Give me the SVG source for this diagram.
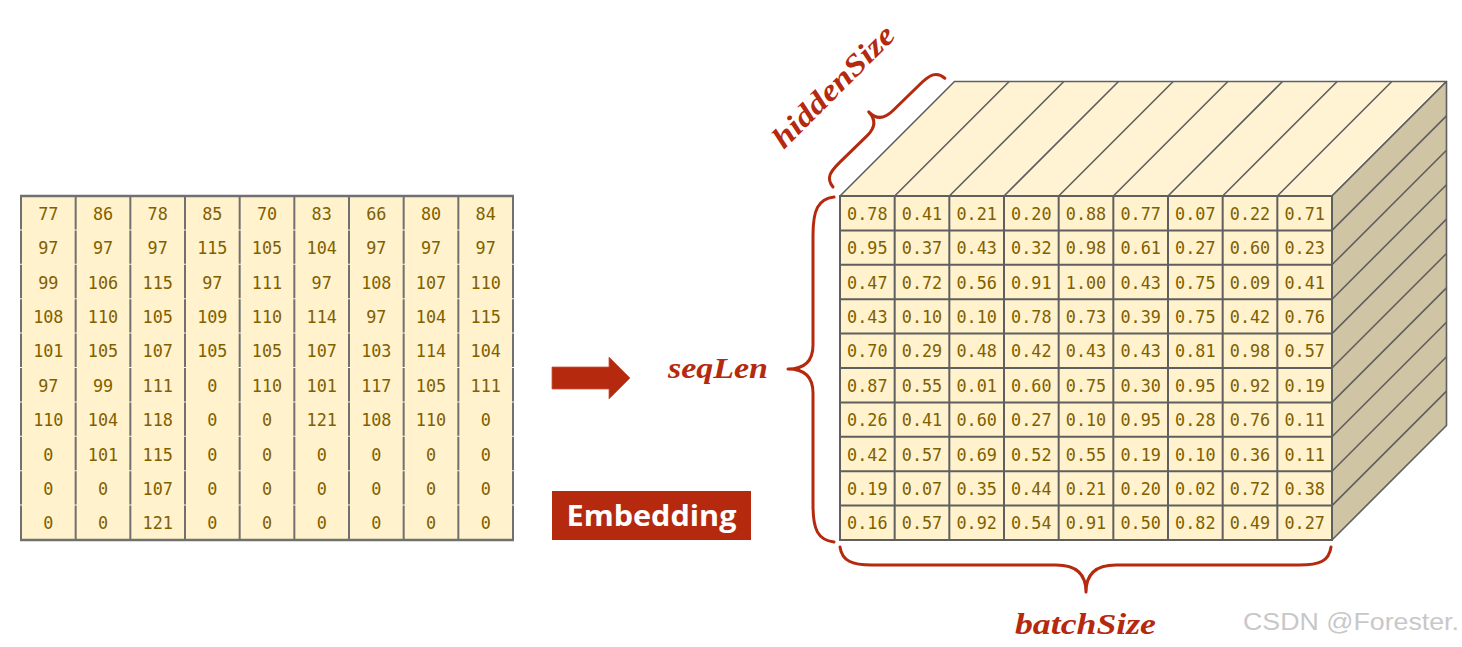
<svg xmlns="http://www.w3.org/2000/svg" width="1462" height="647" viewBox="0 0 1462 647">
<style>
.num{font-family:"DejaVu Sans Mono","Liberation Mono",monospace;font-size:16.8px;fill:#7F6000;text-anchor:middle}
.lbl{font-family:"Liberation Serif","DejaVu Serif",serif;font-size:30px;font-weight:bold;font-style:italic;fill:#B5290E}
.brace{fill:none;stroke:#B5290E;stroke-width:3;stroke-linecap:round;stroke-linejoin:round}
.cube{stroke:#5F5F5F;stroke-width:1.6;stroke-linejoin:round}
.vline{stroke:#707070;stroke-width:2;stroke-dasharray:33.4 1}
</style>
<rect width="1462" height="647" fill="#FFFFFF"/>

<g id="input-table">
<rect x="21" y="196" width="492" height="344" fill="#FFF2CC"/>
<g class="vline">
<line x1="21" y1="196" x2="21" y2="540"/><line x1="75.67" y1="196" x2="75.67" y2="540"/><line x1="130.33" y1="196" x2="130.33" y2="540"/><line x1="185" y1="196" x2="185" y2="540"/><line x1="239.67" y1="196" x2="239.67" y2="540"/><line x1="294.33" y1="196" x2="294.33" y2="540"/><line x1="349" y1="196" x2="349" y2="540"/><line x1="403.67" y1="196" x2="403.67" y2="540"/><line x1="458.33" y1="196" x2="458.33" y2="540"/><line x1="513" y1="196" x2="513" y2="540"/>
</g>
<line x1="20" y1="196" x2="514" y2="196" stroke="#707070" stroke-width="2.4"/>
<line x1="20" y1="540" x2="514" y2="540" stroke="#707070" stroke-width="2.4"/>
<g class="num">
<text x="48.3" y="220">77</text><text x="103" y="220">86</text><text x="157.7" y="220">78</text><text x="212.3" y="220">85</text><text x="267" y="220">70</text><text x="321.7" y="220">83</text><text x="376.3" y="220">66</text><text x="431" y="220">80</text><text x="485.7" y="220">84</text>
<text x="48.3" y="254">97</text><text x="103" y="254">97</text><text x="157.7" y="254">97</text><text x="212.3" y="254">115</text><text x="267" y="254">105</text><text x="321.7" y="254">104</text><text x="376.3" y="254">97</text><text x="431" y="254">97</text><text x="485.7" y="254">97</text>
<text x="48.3" y="288.5">99</text><text x="103" y="288.5">106</text><text x="157.7" y="288.5">115</text><text x="212.3" y="288.5">97</text><text x="267" y="288.5">111</text><text x="321.7" y="288.5">97</text><text x="376.3" y="288.5">108</text><text x="431" y="288.5">107</text><text x="485.7" y="288.5">110</text>
<text x="48.3" y="323">108</text><text x="103" y="323">110</text><text x="157.7" y="323">105</text><text x="212.3" y="323">109</text><text x="267" y="323">110</text><text x="321.7" y="323">114</text><text x="376.3" y="323">97</text><text x="431" y="323">104</text><text x="485.7" y="323">115</text>
<text x="48.3" y="357">101</text><text x="103" y="357">105</text><text x="157.7" y="357">107</text><text x="212.3" y="357">105</text><text x="267" y="357">105</text><text x="321.7" y="357">107</text><text x="376.3" y="357">103</text><text x="431" y="357">114</text><text x="485.7" y="357">104</text>
<text x="48.3" y="392">97</text><text x="103" y="392">99</text><text x="157.7" y="392">111</text><text x="212.3" y="392">0</text><text x="267" y="392">110</text><text x="321.7" y="392">101</text><text x="376.3" y="392">117</text><text x="431" y="392">105</text><text x="485.7" y="392">111</text>
<text x="48.3" y="426">110</text><text x="103" y="426">104</text><text x="157.7" y="426">118</text><text x="212.3" y="426">0</text><text x="267" y="426">0</text><text x="321.7" y="426">121</text><text x="376.3" y="426">108</text><text x="431" y="426">110</text><text x="485.7" y="426">0</text>
<text x="48.3" y="460.5">0</text><text x="103" y="460.5">101</text><text x="157.7" y="460.5">115</text><text x="212.3" y="460.5">0</text><text x="267" y="460.5">0</text><text x="321.7" y="460.5">0</text><text x="376.3" y="460.5">0</text><text x="431" y="460.5">0</text><text x="485.7" y="460.5">0</text>
<text x="48.3" y="495">0</text><text x="103" y="495">0</text><text x="157.7" y="495">107</text><text x="212.3" y="495">0</text><text x="267" y="495">0</text><text x="321.7" y="495">0</text><text x="376.3" y="495">0</text><text x="431" y="495">0</text><text x="485.7" y="495">0</text>
<text x="48.3" y="529">0</text><text x="103" y="529">0</text><text x="157.7" y="529">121</text><text x="212.3" y="529">0</text><text x="267" y="529">0</text><text x="321.7" y="529">0</text><text x="376.3" y="529">0</text><text x="431" y="529">0</text><text x="485.7" y="529">0</text>
</g>
</g>

<g id="connectors">
<polygon points="552,367 609,367 609,357 630,378 609,399 609,389 552,389" fill="#B5290E" stroke="#C9553E" stroke-width="0.8"/>
</g>

<g id="embedding-label">
<rect x="552" y="491" width="199" height="49" fill="#B5290E"/>
<text x="651.5" y="525.5" text-anchor="middle" font-family="'Open Sans','Noto Sans',sans-serif" font-weight="bold" font-size="29" fill="#FFFFFF" textLength="170" lengthAdjust="spacingAndGlyphs">Embedding</text>
</g>

<g id="output-cube">
<polygon class="cube" points="840,196 954.5,81.5 1446.5,81.5 1332,196" fill="#FFF3D4"/>
<polygon class="cube" points="1332,196 1446.5,81.5 1446.5,425.5 1332,540" fill="#CFC4A4"/>
<path class="cube" fill="none" d="M894.67,196L1009.17,81.5M949.33,196L1063.83,81.5M1004,196L1118.5,81.5M1058.67,196L1173.17,81.5M1113.33,196L1227.83,81.5M1168,196L1282.5,81.5M1222.67,196L1337.17,81.5M1277.33,196L1391.83,81.5M1332,230.4L1446.5,115.9M1332,264.8L1446.5,150.3M1332,299.2L1446.5,184.7M1332,333.6L1446.5,219.1M1332,368L1446.5,253.5M1332,402.4L1446.5,287.9M1332,436.8L1446.5,322.3M1332,471.2L1446.5,356.7M1332,505.6L1446.5,391.1"/>
<rect x="840" y="196" width="492" height="344" fill="#FFF2CC" stroke="#5F5F5F" stroke-width="2"/>
<path fill="none" stroke="#5F5F5F" stroke-width="2" d="M894.67,196V540M949.33,196V540M1004,196V540M1058.67,196V540M1113.33,196V540M1168,196V540M1222.67,196V540M1277.33,196V540M840,230.4H1332M840,264.8H1332M840,299.2H1332M840,333.6H1332M840,368H1332M840,402.4H1332M840,436.8H1332M840,471.2H1332M840,505.6H1332"/>
<g class="num">
<text x="867.3" y="220">0.78</text><text x="922" y="220">0.41</text><text x="976.7" y="220">0.21</text><text x="1031.3" y="220">0.20</text><text x="1086" y="220">0.88</text><text x="1140.7" y="220">0.77</text><text x="1195.3" y="220">0.07</text><text x="1250" y="220">0.22</text><text x="1304.7" y="220">0.71</text>
<text x="867.3" y="254">0.95</text><text x="922" y="254">0.37</text><text x="976.7" y="254">0.43</text><text x="1031.3" y="254">0.32</text><text x="1086" y="254">0.98</text><text x="1140.7" y="254">0.61</text><text x="1195.3" y="254">0.27</text><text x="1250" y="254">0.60</text><text x="1304.7" y="254">0.23</text>
<text x="867.3" y="288.5">0.47</text><text x="922" y="288.5">0.72</text><text x="976.7" y="288.5">0.56</text><text x="1031.3" y="288.5">0.91</text><text x="1086" y="288.5">1.00</text><text x="1140.7" y="288.5">0.43</text><text x="1195.3" y="288.5">0.75</text><text x="1250" y="288.5">0.09</text><text x="1304.7" y="288.5">0.41</text>
<text x="867.3" y="323">0.43</text><text x="922" y="323">0.10</text><text x="976.7" y="323">0.10</text><text x="1031.3" y="323">0.78</text><text x="1086" y="323">0.73</text><text x="1140.7" y="323">0.39</text><text x="1195.3" y="323">0.75</text><text x="1250" y="323">0.42</text><text x="1304.7" y="323">0.76</text>
<text x="867.3" y="357">0.70</text><text x="922" y="357">0.29</text><text x="976.7" y="357">0.48</text><text x="1031.3" y="357">0.42</text><text x="1086" y="357">0.43</text><text x="1140.7" y="357">0.43</text><text x="1195.3" y="357">0.81</text><text x="1250" y="357">0.98</text><text x="1304.7" y="357">0.57</text>
<text x="867.3" y="392">0.87</text><text x="922" y="392">0.55</text><text x="976.7" y="392">0.01</text><text x="1031.3" y="392">0.60</text><text x="1086" y="392">0.75</text><text x="1140.7" y="392">0.30</text><text x="1195.3" y="392">0.95</text><text x="1250" y="392">0.92</text><text x="1304.7" y="392">0.19</text>
<text x="867.3" y="426">0.26</text><text x="922" y="426">0.41</text><text x="976.7" y="426">0.60</text><text x="1031.3" y="426">0.27</text><text x="1086" y="426">0.10</text><text x="1140.7" y="426">0.95</text><text x="1195.3" y="426">0.28</text><text x="1250" y="426">0.76</text><text x="1304.7" y="426">0.11</text>
<text x="867.3" y="460.5">0.42</text><text x="922" y="460.5">0.57</text><text x="976.7" y="460.5">0.69</text><text x="1031.3" y="460.5">0.52</text><text x="1086" y="460.5">0.55</text><text x="1140.7" y="460.5">0.19</text><text x="1195.3" y="460.5">0.10</text><text x="1250" y="460.5">0.36</text><text x="1304.7" y="460.5">0.11</text>
<text x="867.3" y="495">0.19</text><text x="922" y="495">0.07</text><text x="976.7" y="495">0.35</text><text x="1031.3" y="495">0.44</text><text x="1086" y="495">0.21</text><text x="1140.7" y="495">0.20</text><text x="1195.3" y="495">0.02</text><text x="1250" y="495">0.72</text><text x="1304.7" y="495">0.38</text>
<text x="867.3" y="529">0.16</text><text x="922" y="529">0.57</text><text x="976.7" y="529">0.92</text><text x="1031.3" y="529">0.54</text><text x="1086" y="529">0.91</text><text x="1140.7" y="529">0.50</text><text x="1195.3" y="529">0.82</text><text x="1250" y="529">0.49</text><text x="1304.7" y="529">0.27</text>
</g>
</g>

<g id="seqLen-brace">
<path class="brace" d="M834,197 C818,199 813,210 813,235 L813,345 Q813,369 788,369 Q813,369 813,393 L813,505 C813,530 818,540 834,542"/>
<text class="lbl" x="668" y="378" textLength="100" lengthAdjust="spacingAndGlyphs">seqLen</text>
</g>

<g id="batchSize-brace">
<path class="brace" d="M840,547 C842,561 852,565 872,565 L1056,565 Q1086,565 1086,592 Q1086,565 1116,565 L1299,565 C1320,565 1329,561 1331,547"/>
<text class="lbl" x="1015" y="634" textLength="141" lengthAdjust="spacingAndGlyphs">batchSize</text>
</g>

<g id="hiddenSize-brace">
<path class="brace" transform="translate(833,187) rotate(-44.2)" d="M0,0 C1,-11 8,-13 22,-13 L60,-13 Q78,-13 78,-29 Q78,-13 96,-13 L134,-13 C148,-13 155,-11 156,0"/>
<text class="lbl" transform="translate(834,87) rotate(-45)" x="0" y="9" text-anchor="middle" textLength="160" lengthAdjust="spacingAndGlyphs">hiddenSize</text>
</g>

<g id="watermark">
<text x="1243" y="630" font-family="'Liberation Sans',Arial,sans-serif" font-size="23" fill="#C8C8C8" textLength="216" lengthAdjust="spacingAndGlyphs">CSDN @Forester.</text>
</g>
</svg>
